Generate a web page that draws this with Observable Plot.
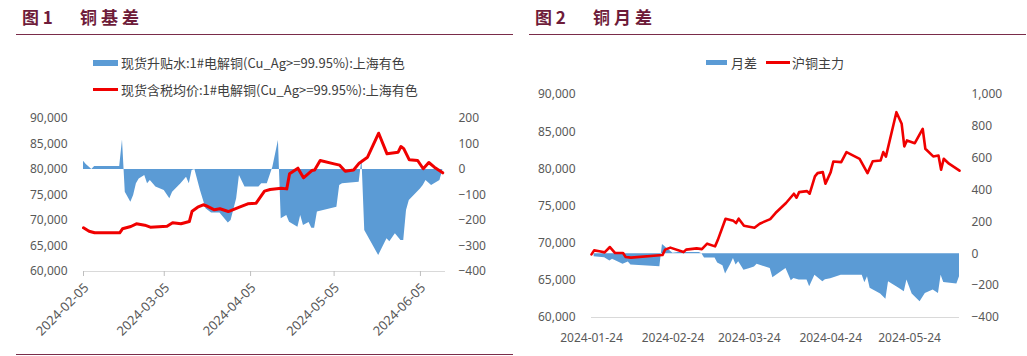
<!DOCTYPE html>
<html><head><meta charset="utf-8">
<script src="https://cdn.jsdelivr.net/npm/d3@7"></script>
<script src="https://cdn.jsdelivr.net/npm/@observablehq/plot@0.6"></script>
<style>
html,body{margin:0;padding:0;background:#fff;}
#root{position:relative;width:1027px;height:356px;overflow:hidden;font-family:"Noto Sans","Noto Sans CJK SC",sans-serif;}
.layer{position:absolute;}
.title{position:absolute;top:6px;font-family:"Noto Sans CJK SC",sans-serif;font-weight:700;font-size:17px;color:#6e1c3a;line-height:22px;white-space:nowrap;}
.rule{position:absolute;height:0;border-top:1.5px solid #7a2c4a;}
.leg{position:absolute;font-size:13px;color:#404040;white-space:nowrap;line-height:16px;font-family:"Noto Sans CJK SC",sans-serif;}
.sw{position:absolute;}
</style></head><body><div id="root"></div>
<script>
// ---------- Panel 1: 铜基差 ----------
const p1BasisDates = ["2024-02-05","2024-02-06","2024-02-08","2024-02-09","2024-02-18","2024-02-19","2024-02-20","2024-02-22","2024-02-23","2024-02-24","2024-02-25","2024-02-27","2024-02-28","2024-02-29","2024-03-02","2024-03-05","2024-03-07","2024-03-08","2024-03-11","2024-03-13","2024-03-14","2024-03-15","2024-03-16","2024-03-18","2024-03-20","2024-03-22","2024-03-25","2024-03-28","2024-03-29","2024-03-31","2024-04-01","2024-04-03","2024-04-08","2024-04-09","2024-04-11","2024-04-13","2024-04-15","2024-04-16","2024-04-18","2024-04-19","2024-04-22","2024-04-23","2024-04-24","2024-04-26","2024-04-27","2024-04-28","2024-04-29","2024-05-06","2024-05-07","2024-05-08","2024-05-14","2024-05-15","2024-05-16","2024-05-18","2024-05-21","2024-05-24","2024-05-25","2024-05-27","2024-05-29","2024-05-30","2024-05-31","2024-06-01","2024-06-05","2024-06-06","2024-06-07","2024-06-09","2024-06-12","2024-06-13"];
const p1BasisValues = [32,20,0,12,12,116,-89,-128,-102,-56,-37,-24,-56,-43,-69,-82,-115,-89,-56,-30,-56,-4,0,-82,-154,-171,-171,-210,-200,-115,-24,-69,-69,-56,-56,9,114,-193,-180,-207,-226,-180,-220,-208,-230,-230,-167,-148,-63,-56,-50,40,-239,-278,-337,-272,-283,-252,-278,-278,-161,-122,-76,-63,-43,-63,-43,-4];
const p1PriceDates = ["2024-02-05","2024-02-07","2024-02-09","2024-02-18","2024-02-19","2024-02-22","2024-02-24","2024-02-27","2024-02-29","2024-03-06","2024-03-08","2024-03-11","2024-03-14","2024-03-15","2024-03-17","2024-03-19","2024-03-20","2024-03-23","2024-03-25","2024-03-28","2024-04-01","2024-04-04","2024-04-07","2024-04-10","2024-04-12","2024-04-16","2024-04-18","2024-04-19","2024-04-22","2024-04-24","2024-04-27","2024-04-28","2024-04-30","2024-05-05","2024-05-07","2024-05-09","2024-05-12","2024-05-14","2024-05-17","2024-05-21","2024-05-24","2024-05-28","2024-05-29","2024-05-30","2024-06-01","2024-06-04","2024-06-06","2024-06-08","2024-06-10","2024-06-13"];
const p1PriceValues = [68570,67900,67590,67590,68370,68820,69350,69080,68690,68880,69550,69350,69800,71830,72610,73080,72900,72100,72300,71760,72610,73270,73400,75750,76080,76340,76200,79150,80260,78370,79800,79900,81760,81110,80850,79670,79900,81240,82410,87120,83070,83400,84510,84100,81900,81760,80140,81370,80450,79350];
const p1XTicks = ["2024-02-05","2024-03-05","2024-04-05","2024-05-05","2024-06-05"];
const p1XDomain = ["2024-02-05","2024-06-14"];
const p1LeftTicks = [60000,65000,70000,75000,80000,85000,90000];
const p1RightTicks = [-400,-300,-200,-100,0,100,200];
const p1Legend = ["现货升贴水:1#电解铜(Cu_Ag>=99.95%):上海有色","现货含税均价:1#电解铜(Cu_Ag>=99.95%):上海有色"];

// ---------- Panel 2: 铜月差 ----------
const p2SpreadDates = ["2024-01-25","2024-01-29","2024-01-31","2024-02-01","2024-02-03","2024-02-05","2024-02-07","2024-02-08","2024-02-19","2024-02-20","2024-02-22","2024-02-24","2024-02-26","2024-03-05","2024-03-06","2024-03-07","2024-03-11","2024-03-12","2024-03-14","2024-03-15","2024-03-17","2024-03-18","2024-03-19","2024-03-20","2024-03-22","2024-03-24","2024-03-26","2024-03-27","2024-03-29","2024-04-01","2024-04-02","2024-04-07","2024-04-09","2024-04-10","2024-04-12","2024-04-15","2024-04-16","2024-04-18","2024-04-21","2024-04-22","2024-04-24","2024-04-28","2024-05-06","2024-05-07","2024-05-08","2024-05-09","2024-05-13","2024-05-15","2024-05-16","2024-05-20","2024-05-22","2024-05-23","2024-05-25","2024-05-28","2024-05-30","2024-06-02","2024-06-04","2024-06-05","2024-06-06","2024-06-11","2024-06-12"];
const p2SpreadValues = [-19,-25,-46,-35,-50,-65,-51,-71,-81,59,30,3,8,8,0,-27,-27,-58,-75,-127,-66,-29,-71,-50,-104,-94,-83,-65,-77,-92,-150,-92,-169,-155,-165,-165,-207,-134,-176,-163,-157,-134,-134,-182,-144,-217,-253,-286,-176,-217,-238,-165,-253,-301,-249,-228,-249,-134,-180,-190,-144];
const p2PriceDates = ["2024-01-24","2024-01-25","2024-01-27","2024-01-29","2024-01-31","2024-02-02","2024-02-05","2024-02-06","2024-02-08","2024-02-20","2024-02-21","2024-02-23","2024-02-28","2024-02-29","2024-03-04","2024-03-06","2024-03-08","2024-03-11","2024-03-12","2024-03-15","2024-03-18","2024-03-19","2024-03-20","2024-03-22","2024-03-26","2024-03-28","2024-04-01","2024-04-03","2024-04-07","2024-04-10","2024-04-11","2024-04-12","2024-04-15","2024-04-16","2024-04-18","2024-04-19","2024-04-21","2024-04-22","2024-04-24","2024-04-25","2024-04-28","2024-04-30","2024-05-05","2024-05-08","2024-05-10","2024-05-13","2024-05-14","2024-05-15","2024-05-19","2024-05-21","2024-05-22","2024-05-23","2024-05-26","2024-05-29","2024-05-30","2024-06-02","2024-06-04","2024-06-05","2024-06-06","2024-06-08","2024-06-12"];
const p2PriceValues = [68495,69030,68900,68760,69480,68670,68670,68130,68050,68400,69130,69400,68800,69130,69300,69200,69930,69570,70380,73290,73000,72700,73290,72350,72080,72620,73240,74050,75400,76650,76110,76870,77000,76650,78980,79420,79560,78000,79560,80990,80900,82240,81350,79420,81030,81130,82250,81640,87620,86060,83010,83820,83450,85390,82700,81670,81800,79880,81360,80690,79750];
const p2XTicks = ["2024-01-24","2024-02-24","2024-03-24","2024-04-24","2024-05-24"];
const p2XDomain = ["2024-01-24","2024-06-12"];
const p2LeftTicks = [60000,65000,70000,75000,80000,85000,90000];
const p2RightTicks = [-400,-200,0,200,400,600,800,1000];
const p2Legend = ["月差","沪铜主力"];

const titles = [["图 1","铜基差"],["图 2","铜月差"]];

// ---------- drawing ----------
const BLUE = "#5b9bd5", RED = "#f00000", TXT = "#595959";
const FONT = '"Noto Sans","Noto Sans CJK SC",sans-serif';
const parse = d3.utcParse("%Y-%m-%d");
const fmtDate = d3.utcFormat("%Y-%m-%d");
const fmtNum = d3.format(",");
const rows = (ds, vs) => ds.map((d, i) => ({date: parse(d), value: vs[i]}));
const root = document.getElementById("root");

function place(node, left, top) {
  node.classList.add("layer");
  node.style.left = left + "px";
  node.style.top = top + "px";
  root.appendChild(node);
}
function el(cls, left, top, html, extra) {
  const d = document.createElement("div");
  d.className = cls;
  d.style.left = left + "px";
  d.style.top = top + "px";
  if (html != null) d.textContent = html;
  if (extra) Object.assign(d.style, extra);
  root.appendChild(d);
  return d;
}

function panel(cfg) {
  const common = {
    width: cfg.width, height: cfg.height,
    marginTop: cfg.mt, marginBottom: cfg.mb, marginLeft: cfg.ml, marginRight: cfg.mr,
    style: {background: "transparent", fontFamily: FONT, fontSize: "12px", overflow: "visible"},
    x: {type: "utc", domain: cfg.xDomain.map(parse)}
  };
  const xt = cfg.xTicks.map(parse);
  const xAxes = cfg.rotate
    ? [
        Plot.axisX({ticks: xt, tickSize: 5, text: null, stroke: "#bfbfbf", label: null}),
        Plot.axisX({ticks: xt, tickFormat: fmtDate, tickRotate: -45, tickSize: 0, tickPadding: 14, dx: 3, fontSize: 13, fill: TXT, label: null})
      ]
    : [Plot.axisX({ticks: xt, tickFormat: fmtDate, tickSize: 0, tickPadding: 16, fill: TXT, label: null})];
  const bottom = Plot.plot({
    ...common,
    y: {domain: [cfg.rightTicks[0], cfg.rightTicks[cfg.rightTicks.length - 1]]},
    marks: [
      Plot.areaY(cfg.area, {x: "date", y: "value", fill: BLUE}),
      Plot.ruleY([cfg.rightTicks[0]], {stroke: "#d9d9d9", strokeWidth: 1}),
      Plot.axisY({anchor: "right", ticks: cfg.rightTicks, tickSize: 0, tickPadding: cfg.rPad, tickFormat: fmtNum, fill: TXT, label: null}),
      ...xAxes
    ]
  });
  const top = Plot.plot({
    ...common,
    x: {...common.x, axis: null},
    y: {domain: [cfg.leftTicks[0], cfg.leftTicks[cfg.leftTicks.length - 1]]},
    marks: [
      Plot.lineY(cfg.line, {x: "date", y: "value", stroke: RED, strokeWidth: cfg.lw}),
      Plot.axisY({anchor: "left", ticks: cfg.leftTicks, tickSize: 0, tickPadding: 16, tickFormat: fmtNum, fill: TXT, label: null})
    ]
  });
  place(bottom, cfg.left, cfg.top);
  place(top, cfg.left, cfg.top);
}

panel({left: 0, top: 100, width: 513, height: 256, mt: 18, mb: 85, ml: 83, mr: 68,
  xDomain: p1XDomain, xTicks: p1XTicks, rotate: true, rPad: 13, lw: 3,
  area: rows(p1BasisDates, p1BasisValues), line: rows(p1PriceDates, p1PriceValues),
  leftTicks: p1LeftTicks, rightTicks: p1RightTicks});

panel({left: 513, top: 80, width: 514, height: 276, mt: 14, mb: 39, ml: 78, mr: 68,
  xDomain: p2XDomain, xTicks: p2XTicks, rotate: false, rPad: 12, lw: 2.6,
  area: rows(p2SpreadDates, p2SpreadValues), line: rows(p2PriceDates, p2PriceValues),
  leftTicks: p2LeftTicks, rightTicks: p2RightTicks});

// titles and rules
el("title", 22, 6, titles[0][0]);
el("title", 80, 6, titles[0][1], {letterSpacing: "4px"});
el("title", 535, 6, titles[1][0]);
el("title", 593, 6, titles[1][1], {letterSpacing: "4px"});
el("rule", 16, 34, null, {width: "497px"});
el("rule", 529, 34, null, {width: "497px"});
el("rule", 16, 353.5, null, {width: "497px"});

// legends panel 1
el("sw", 93, 60, null, {width: "25px", height: "6px", background: BLUE});
el("leg", 121, 54.5, p1Legend[0]);
el("sw", 93, 88, null, {width: "25px", height: "3px", background: RED});
el("leg", 121, 81.5, p1Legend[1]);
// legends panel 2
el("sw", 706, 60, null, {width: "21px", height: "5px", background: BLUE});
el("leg", 731, 54.5, p2Legend[0]);
el("sw", 766, 61, null, {width: "24px", height: "3px", background: RED});
el("leg", 792, 54.5, p2Legend[1]);
</script></body></html>
